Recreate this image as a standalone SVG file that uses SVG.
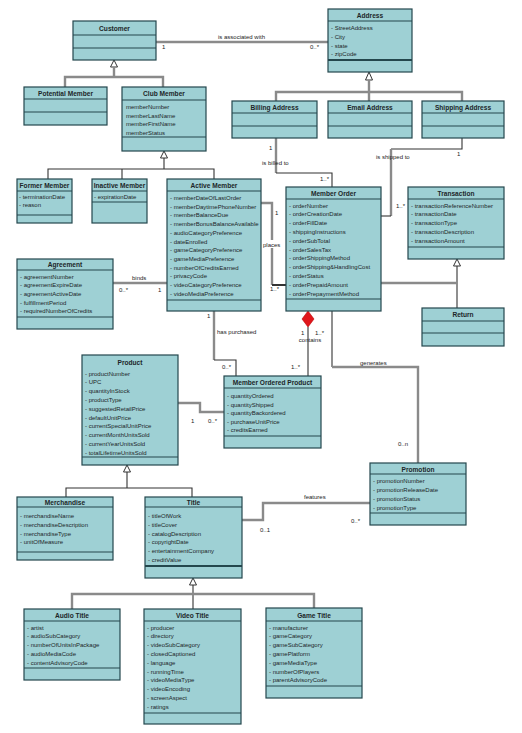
<svg xmlns="http://www.w3.org/2000/svg" width="522" height="733" viewBox="0 0 522 733">
<style>
.box{fill:#9ed0d4;stroke:#24474d;stroke-width:1.2}
.sep{stroke:#24474d;stroke-width:1}
.t{font-family:"Liberation Sans",Arial,sans-serif;font-weight:bold;font-size:6.6px;text-anchor:middle;fill:#1c2628}
.a{font-family:"Liberation Sans",Arial,sans-serif;font-size:6px;fill:#1c2628}
.l{font-family:"Liberation Sans",Arial,sans-serif;font-size:6px;fill:#222}
.c{fill:none;stroke:#333;stroke-width:1.1}
.g{fill:none;stroke:#8a8a8a;stroke-width:2.4}
.tri{fill:#fff;stroke:#333;stroke-width:1}
</style>
<rect width="522" height="733" fill="#fff"/>
<g id="connectors">
<path class="g" d="M156,42H328"/>
<path class="tri" d="M114,60L117.5,67H110.5Z"/>
<path class="g" d="M114,67V77M65,87V77H163V87"/>
<path class="tri" d="M164,151L167.5,158H160.5Z"/>
<path class="c" d="M164,158V169M48,179V169H214V179M122,169V179"/>
<path class="tri" d="M369,72L372.5,80H365.5Z"/>
<path class="g" d="M369,80V101M276,101V92H462V101"/>
<path class="g" d="M276,138V173"/>
<path class="c" d="M276,173H332V187"/>
<path class="c" d="M462,138V149H391"/>
<path class="g" d="M391,149V216"/>
<path class="c" d="M391,216H381"/>
<path class="g" d="M261,203H272V285"/>
<path class="c" d="M272,285H286" style="stroke-width:2"/>
<path class="tri" d="M457,259L460.5,266H453.5Z"/>
<path class="c" d="M457,266V308"/>
<path class="g" d="M381,283H457"/>
<path class="g" d="M113,283H167"/>
<path class="g" d="M214,311V360"/>
<path class="c" d="M214,360H236V376"/>
<path d="M308,311L314,319L308,327L302,319Z" fill="#e0161c" stroke="#b00" stroke-width="0.6"/>
<path class="c" d="M308,327V376"/>
<path class="c" d="M332,311V367"/>
<path class="g" d="M332,367H418V463"/>
<path class="g" d="M178,403H200V412H224"/>
<path class="tri" d="M127,465L130.5,472H123.5Z"/>
<path class="c" d="M127,472V488M66,497V488H192V497"/>
<path class="g" d="M242,520H263V503H370"/>
<path class="tri" d="M193,578L196.5,585H189.5Z"/>
<path class="c" d="M193,585V609"/>
<path class="g" d="M72,609V594H314V608"/>
<text class="l" x="218" y="39">is associated with</text>
<text class="l" x="162" y="49">1</text>
<text class="l" x="310" y="49">0..*</text>
<text class="l" x="269" y="150">1</text>
<text class="l" x="262" y="165">is billed to</text>
<text class="l" x="320" y="181">1..*</text>
<text class="l" x="376" y="159">is shipped to</text>
<text class="l" x="457" y="156">1</text>
<text class="l" x="396" y="208">1..*</text>
<text class="l" x="275" y="215">1</text>
<rect x="263" y="240" width="20" height="8" fill="#fff"/>
<text class="l" x="263" y="247">places</text>
<text class="l" x="270" y="291">1..*</text>
<text class="l" x="132" y="280">binds</text>
<text class="l" x="119" y="292">0..*</text>
<text class="l" x="158" y="292">1</text>
<text class="l" x="207" y="318">1</text>
<text class="l" x="217" y="334">has purchased</text>
<text class="l" x="222" y="369">0..*</text>
<text class="l" x="301" y="335">1</text>
<text class="l" x="315" y="335">1..*</text>
<text class="l" x="310" y="342" text-anchor="middle">contains</text>
<text class="l" x="291" y="369">1..*</text>
<text class="l" x="360" y="365">generates</text>
<text class="l" x="398" y="446">0..n</text>
<text class="l" x="191" y="423">1</text>
<text class="l" x="208" y="423">0..*</text>
<text class="l" x="304" y="499">features</text>
<text class="l" x="351" y="523">0..*</text>
<text class="l" x="260" y="532">0..1</text>
</g>
<g id="Customer">
<rect class="box" x="73" y="21" width="83" height="39"/>
<path class="sep" d="M73,35H156M73,48H156"/>
<text class="t" x="114.5" y="30.5">Customer</text>
</g>
<g id="Address">
<rect class="box" x="328" y="9" width="84" height="63"/>
<path class="sep" d="M328,21H412"/>
<path class="sep" d="M328,60H412" style="stroke-width:2"/>
<text class="t" x="370" y="17.5">Address</text>
<text class="a" x="331" y="30">- StreetAddress</text>
<text class="a" x="331" y="39">- City</text>
<text class="a" x="331" y="47.5">- state</text>
<text class="a" x="331" y="56">- zipCode</text>
</g>
<g id="PotentialMember">
<rect class="box" x="24" y="87" width="83" height="38"/>
<path class="sep" d="M24,99H107M24,112H107"/>
<text class="t" x="65.5" y="96">Potential Member</text>
</g>
<g id="ClubMember">
<rect class="box" x="122" y="87" width="84" height="64"/>
<path class="sep" d="M122,100H206M122,137H206"/>
<text class="t" x="164" y="96">Club Member</text>
<text class="a" x="126" y="109">memberNumber</text>
<text class="a" x="126" y="117.5">memberLastName</text>
<text class="a" x="126" y="126">memberFirstName</text>
<text class="a" x="126" y="134.5">memberStatus</text>
</g>
<g id="BillingAddress">
<rect class="box" x="232" y="101" width="85" height="37"/>
<path class="sep" d="M232,113H317M232,126H317"/>
<text class="t" x="274.5" y="110">Billing Address</text>
</g>
<g id="EmailAddress">
<rect class="box" x="328" y="101" width="84" height="37"/>
<path class="sep" d="M328,113H412M328,126H412"/>
<text class="t" x="370" y="110">Email Address</text>
</g>
<g id="ShippingAddress">
<rect class="box" x="422" y="101" width="82" height="37"/>
<path class="sep" d="M422,113H504M422,126H504"/>
<text class="t" x="463" y="110">Shipping Address</text>
</g>
<g id="FormerMember">
<rect class="box" x="17" y="179" width="55" height="44"/>
<path class="sep" d="M17,191H72M17,215H72"/>
<text class="t" x="44.5" y="188">Former Member</text>
<text class="a" x="19" y="199">- terminationDate</text>
<text class="a" x="19" y="207">- reason</text>
</g>
<g id="InactiveMember">
<rect class="box" x="92" y="179" width="55" height="44"/>
<path class="sep" d="M92,191H147M92,202H147"/>
<text class="t" x="119.5" y="188">Inactive Member</text>
<text class="a" x="94" y="199">- expirationDate</text>
</g>
<g id="ActiveMember">
<rect class="box" x="167" y="179" width="94" height="132"/>
<path class="sep" d="M167,191H261M167,300H261"/>
<text class="t" x="214" y="188">Active Member</text>
<text class="a" x="170" y="200">- memberDateOfLastOrder</text>
<text class="a" x="170" y="208.7">- memberDaytimePhoneNumber</text>
<text class="a" x="170" y="217.4">- memberBalanceDue</text>
<text class="a" x="170" y="226.1">- memberBonusBalanceAvailable</text>
<text class="a" x="170" y="234.8">- audioCategoryPreference</text>
<text class="a" x="170" y="243.5">- dateEnrolled</text>
<text class="a" x="170" y="252.2">- gameCategoryPreference</text>
<text class="a" x="170" y="260.9">- gameMediaPreference</text>
<text class="a" x="170" y="269.6">- numberOfCreditsEarned</text>
<text class="a" x="170" y="278.3">- privacyCode</text>
<text class="a" x="170" y="287">- videoCategoryPreference</text>
<text class="a" x="170" y="295.7">- videoMediaPreference</text>
</g>
<g id="MemberOrder">
<rect class="box" x="286" y="187" width="95" height="124"/>
<path class="sep" d="M286,199H381M286,299H381"/>
<text class="t" x="333.5" y="196">Member Order</text>
<text class="a" x="289" y="207.5">- orderNumber</text>
<text class="a" x="289" y="216.3">- orderCreationDate</text>
<text class="a" x="289" y="225.1">- orderFillDate</text>
<text class="a" x="289" y="233.9">- shippingInstructions</text>
<text class="a" x="289" y="242.7">- orderSubTotal</text>
<text class="a" x="289" y="251.5">- orderSalesTax</text>
<text class="a" x="289" y="260.3">- orderShippingMethod</text>
<text class="a" x="289" y="269.1">- orderShipping&amp;HandlingCost</text>
<text class="a" x="289" y="277.9">- orderStatus</text>
<text class="a" x="289" y="286.7">- orderPrepaidAmount</text>
<text class="a" x="289" y="295.5">- orderPrepaymentMethod</text>
</g>
<g id="Transaction">
<rect class="box" x="408" y="187" width="96" height="72"/>
<path class="sep" d="M408,199H504M408,247H504"/>
<text class="t" x="456" y="196">Transaction</text>
<text class="a" x="411" y="207.5">- transactionReferenceNumber</text>
<text class="a" x="411" y="216.3">- transactionDate</text>
<text class="a" x="411" y="225.1">- transactionType</text>
<text class="a" x="411" y="233.9">- transactionDescription</text>
<text class="a" x="411" y="242.7">- transactionAmount</text>
</g>
<g id="Return">
<rect class="box" x="422" y="308" width="82" height="38"/>
<path class="sep" d="M422,321H504M422,333H504"/>
<text class="t" x="463" y="317">Return</text>
</g>
<g id="Agreement">
<rect class="box" x="17" y="259" width="96" height="70"/>
<path class="sep" d="M17,270H113M17,317H113"/>
<text class="t" x="65" y="267">Agreement</text>
<text class="a" x="20" y="278.5">- agreementNumber</text>
<text class="a" x="20" y="287.2">- agreementExpireDate</text>
<text class="a" x="20" y="295.9">- agreementActiveDate</text>
<text class="a" x="20" y="304.6">- fulfillmentPeriod</text>
<text class="a" x="20" y="313.3">- requiredNumberOfCredits</text>
</g>
<g id="MemberOrderedProduct">
<rect class="box" x="224" y="376" width="97" height="72"/>
<path class="sep" d="M224,388H321M224,436H321"/>
<text class="t" x="272.5" y="385">Member Ordered Product</text>
<text class="a" x="227" y="398">- quantityOrdered</text>
<text class="a" x="227" y="406.5">- quantityShipped</text>
<text class="a" x="227" y="415">- quantityBackordered</text>
<text class="a" x="227" y="423.5">- purchaseUnitPrice</text>
<text class="a" x="227" y="432">- creditsEarned</text>
</g>
<g id="Product">
<rect class="box" x="82" y="355" width="96" height="110"/>
<path class="sep" d="M82,457H178"/>
<text class="t" x="130" y="365">Product</text>
<text class="a" x="85" y="375.5">- productNumber</text>
<text class="a" x="85" y="384.3">- UPC</text>
<text class="a" x="85" y="393.1">- quantityInStock</text>
<text class="a" x="85" y="401.9">- productType</text>
<text class="a" x="85" y="410.7">- suggestedRetailPrice</text>
<text class="a" x="85" y="419.5">- defaultUnitPrice</text>
<text class="a" x="85" y="428.3">- currentSpecialUnitPrice</text>
<text class="a" x="85" y="437.1">- currentMonthUnitsSold</text>
<text class="a" x="85" y="445.9">- currentYearUnitsSold</text>
<text class="a" x="85" y="454.5">- totalLifetimeUnitsSold</text>
</g>
<g id="Promotion">
<rect class="box" x="370" y="463" width="96" height="62"/>
<path class="sep" d="M370,474H466M370,513H466"/>
<text class="t" x="418" y="471.5">Promotion</text>
<text class="a" x="373" y="483">- promotionNumber</text>
<text class="a" x="373" y="492">- promotionReleaseDate</text>
<text class="a" x="373" y="501">- promotionStatus</text>
<text class="a" x="373" y="510">- promotionType</text>
</g>
<g id="Merchandise">
<rect class="box" x="17" y="497" width="96" height="63"/>
<path class="sep" d="M17,507H113M17,552H113"/>
<text class="t" x="65" y="505">Merchandise</text>
<text class="a" x="20" y="518">- merchandiseName</text>
<text class="a" x="20" y="526.8">- merchandiseDescription</text>
<text class="a" x="20" y="535.6">- merchandiseType</text>
<text class="a" x="20" y="544.4">- unitOfMeasure</text>
</g>
<g id="Title">
<rect class="box" x="145" y="497" width="97" height="81"/>
<path class="sep" d="M145,507H242"/>
<path class="sep" d="M145,566H242" style="stroke-width:2"/>
<text class="t" x="193.5" y="505">Title</text>
<text class="a" x="148" y="518">- titleOfWork</text>
<text class="a" x="148" y="526.8">- titleCover</text>
<text class="a" x="148" y="535.6">- catalogDescription</text>
<text class="a" x="148" y="544.4">- copyrightDate</text>
<text class="a" x="148" y="553.2">- entertainmentCompany</text>
<text class="a" x="148" y="562">- creditValue</text>
</g>
<g id="AudioTitle">
<rect class="box" x="24" y="609" width="96" height="71"/>
<path class="sep" d="M24,621H120M24,668H120"/>
<text class="t" x="72" y="618">Audio Title</text>
<text class="a" x="27" y="629.5">- artist</text>
<text class="a" x="27" y="638.4">- audioSubCategory</text>
<text class="a" x="27" y="647.3">- numberOfUnitsInPackage</text>
<text class="a" x="27" y="656.2">- audioMediaCode</text>
<text class="a" x="27" y="665">- contentAdvisoryCode</text>
</g>
<g id="VideoTitle">
<rect class="box" x="144" y="609" width="97" height="115"/>
<path class="sep" d="M144,621H241M144,713H241"/>
<text class="t" x="192.5" y="618">Video Title</text>
<text class="a" x="147" y="629.5">- producer</text>
<text class="a" x="147" y="638.3">- directory</text>
<text class="a" x="147" y="647.1">- videoSubCategory</text>
<text class="a" x="147" y="655.9">- closedCaptioned</text>
<text class="a" x="147" y="664.7">- language</text>
<text class="a" x="147" y="673.5">- runningTime</text>
<text class="a" x="147" y="682.3">- videoMediaType</text>
<text class="a" x="147" y="691.1">- videoEncoding</text>
<text class="a" x="147" y="699.9">- screenAspect</text>
<text class="a" x="147" y="708.5">- ratings</text>
</g>
<g id="GameTitle">
<rect class="box" x="266" y="608" width="96" height="90"/>
<path class="sep" d="M266,621H362M266,686H362"/>
<text class="t" x="314" y="617.5">Game Title</text>
<text class="a" x="269" y="629.5">- manufacturer</text>
<text class="a" x="269" y="638.3">- gameCategory</text>
<text class="a" x="269" y="647.1">- gameSubCategory</text>
<text class="a" x="269" y="655.9">- gamePlatform</text>
<text class="a" x="269" y="664.7">- gameMediaType</text>
<text class="a" x="269" y="673.5">- numberOfPlayers</text>
<text class="a" x="269" y="682.3">- parentAdvisoryCode</text>
</g>
</svg>
